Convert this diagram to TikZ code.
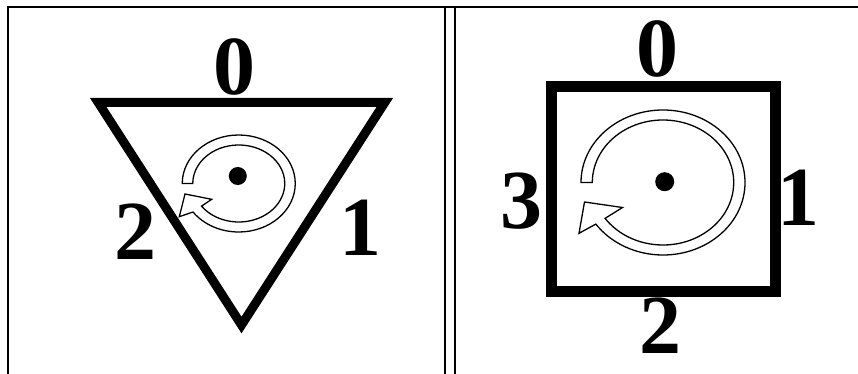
\documentclass[tikz,border=0pt]{standalone}
\usepackage{fontspec}
\setmainfont{Liberation Serif}
\usetikzlibrary{calc}
\tikzset{
  lbl/.style={font=\fontsize{84}{84}\selectfont\bfseries, inner sep=0pt, anchor=center},
  frameline/.style={line width=1.8pt, draw=black},
  shapeline/.style={draw=black, line join=miter},
  band/.style={draw=black, fill=white, line width=1.3pt, line join=miter},
  dotnode/.style={circle, fill=black, inner sep=0pt},
}
\begin{document}
\begin{tikzpicture}[x=1pt,y=1pt]
\useasboundingbox (0,0) rectangle (858,-374);
% frame
\draw[frameline] (8,-374) -- (8,-7) -- (858,-7);
\draw[frameline] (445,-7) -- (445,-374);
\draw[frameline] (455,-7) -- (455,-374);

% ---------- left panel: triangle ----------
\draw[shapeline, line width=9pt] (98.2,-102.5) -- (384.8,-102.5) -- (241.5,-325) -- cycle;
\node[lbl] (t0) at (234.5,-66.5) {0};
\node[lbl] (t1) at (360,-227.5) {1};
\node[lbl] (t2) at (135.5,-231.5) {2};
\coordinate (ta) at (238.75,-183.5);
\draw[band] ($(ta)+(180:56.5 and 48.5)$)
  arc[start angle=180, end angle=-144, x radius=56.5, y radius=48.5]
  -- (179.3,-216.7) -- (185,-194) -- (211.7,-199.3)
  -- ($(ta)+(-144:46 and 38.5)$)
  arc[start angle=-144, end angle=180, x radius=46, y radius=38.5] -- cycle;
\node[dotnode, minimum size=18pt] (tc) at (237.8,-176) {};

% ---------- right panel: square ----------
\draw[shapeline, line width=11pt] (551.8,-86.2) rectangle (775.3,-291.2);
\node[lbl] (r0) at (657.5,-48.5) {0};
\node[lbl] (r1) at (798,-197.5) {1};
\node[lbl] (r2) at (660.5,-325.5) {2};
\node[lbl] (r3) at (521,-201) {3};
\coordinate (ra) at (663,-182.5);
\draw[band] ($(ra)+(180:82 and 72.5)$)
  arc[start angle=180, end angle=-145, x radius=82, y radius=72.5]
  -- (579,-233.3) -- (584.5,-202) -- (622.5,-207.5)
  -- ($(ra)+(-145:70.7 and 62.5)$)
  arc[start angle=-145, end angle=180, x radius=70.7, y radius=62.5] -- cycle;
\node[dotnode, minimum size=19pt] (rc) at (664.7,-181.7) {};
\end{tikzpicture}
\end{document}
